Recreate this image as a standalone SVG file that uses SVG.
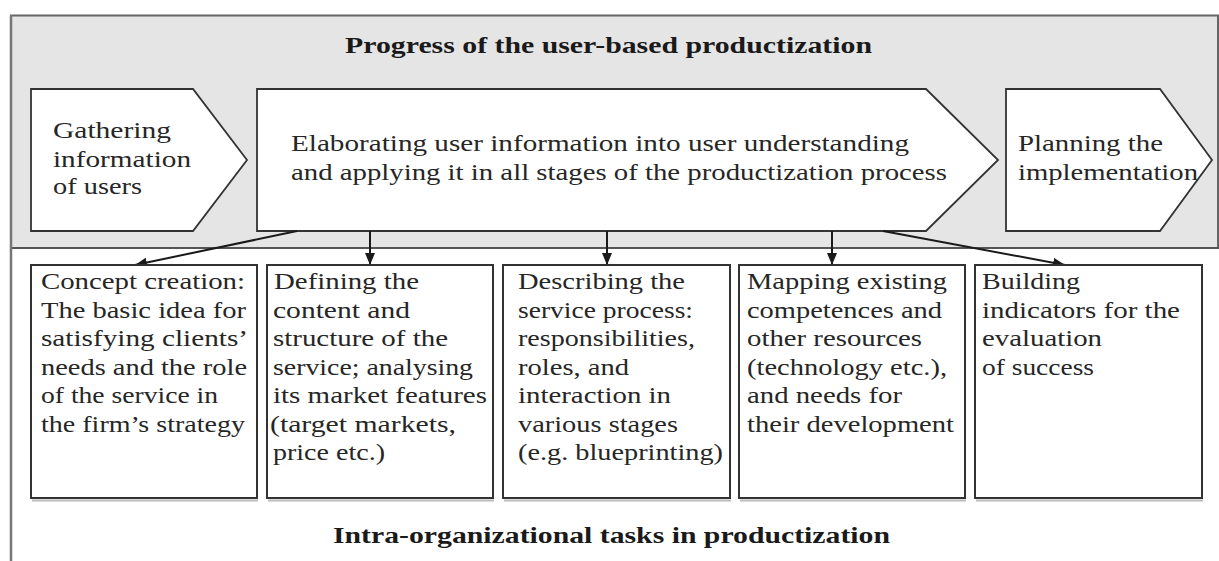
<svg xmlns="http://www.w3.org/2000/svg" width="1219" height="561" viewBox="0 0 1219 561">
<style>
.t{font-family:"Liberation Serif","Times New Roman",serif;font-size:23px;fill:#262626}
.h{font-family:"Liberation Serif","Times New Roman",serif;font-size:24px;font-weight:bold;fill:#1a1a1a}
.shape{fill:#fff;stroke:#333;stroke-width:1.8}
.box{fill:#fff;stroke:#333;stroke-width:2}
.shadow{fill:none;stroke:#bbb;stroke-width:2}
.conn{stroke:#1a1a1a;stroke-width:2;fill:none}
</style>
<defs>
<marker id="ah" markerUnits="userSpaceOnUse" markerWidth="13" markerHeight="11" refX="12" refY="5" orient="auto">
<path d="M0,0 L12,5 L0,10 z" fill="#1a1a1a"/>
</marker>
</defs>
<rect x="0" y="0" width="1219" height="561" fill="#fff"/>
<g id="frame">
<rect x="11" y="15.5" width="1220" height="232.5" fill="#e5e5e5"/>
<line x1="10" y1="15.5" x2="1219" y2="15.5" stroke="#666" stroke-width="2"/>
<line x1="1218" y1="15.5" x2="1218" y2="248" stroke="#666" stroke-width="2"/>
<line x1="10" y1="248" x2="1219" y2="248" stroke="#555" stroke-width="2"/>
<line x1="11" y1="15" x2="11" y2="561" stroke="#777" stroke-width="2.5"/>
</g>
<g id="title-top">
<text class="h" x="345" y="53" textLength="527" lengthAdjust="spacingAndGlyphs">Progress of the user-based productization</text>
</g>
<g id="gathering">
<polygon class="shape" points="31,89 193,89 247,160 193,231 31,231"/>
<text class="t" x="53" y="138" textLength="118" lengthAdjust="spacingAndGlyphs">Gathering</text>
<text class="t" x="53" y="167" textLength="138" lengthAdjust="spacingAndGlyphs">information</text>
<text class="t" x="53" y="194" textLength="89" lengthAdjust="spacingAndGlyphs">of users</text>
</g>
<g id="elaborating">
<polygon class="shape" points="257,89 926,89 998,160 926,231 257,231"/>
<text class="t" x="291" y="151" textLength="618" lengthAdjust="spacingAndGlyphs">Elaborating user information into user understanding</text>
<text class="t" x="291" y="180" textLength="656" lengthAdjust="spacingAndGlyphs">and applying it in all stages of the productization process</text>
</g>
<g id="planning">
<polygon class="shape" points="1006,89 1160,89 1212,160 1160,231 1006,231"/>
<text class="t" x="1018" y="151" textLength="145" lengthAdjust="spacingAndGlyphs">Planning the</text>
<text class="t" x="1018" y="180" textLength="180" lengthAdjust="spacingAndGlyphs">implementation</text>
</g>
<g id="connectors">
<line class="conn" x1="297" y1="231" x2="135" y2="265" marker-end="url(#ah)"/>
<line class="conn" x1="370" y1="231" x2="370" y2="265" marker-end="url(#ah)"/>
<line class="conn" x1="607" y1="231" x2="607" y2="265" marker-end="url(#ah)"/>
<line class="conn" x1="832" y1="231" x2="832" y2="265" marker-end="url(#ah)"/>
<line class="conn" x1="883" y1="231" x2="1065" y2="265" marker-end="url(#ah)"/>
</g>
<g id="concept">
<line class="shadow" x1="32" y1="500.5" x2="258" y2="500.5"/>
<rect class="box" x="31" y="265" width="226" height="233"/>
<text class="t" x="41" y="289" textLength="204" lengthAdjust="spacingAndGlyphs">Concept creation:</text>
<text class="t" x="41" y="317.5" textLength="205" lengthAdjust="spacingAndGlyphs">The basic idea for</text>
<text class="t" x="41" y="346" textLength="207" lengthAdjust="spacingAndGlyphs">satisfying clients’</text>
<text class="t" x="41" y="374.5" textLength="206" lengthAdjust="spacingAndGlyphs">needs and the role</text>
<text class="t" x="41" y="403" textLength="177" lengthAdjust="spacingAndGlyphs">of the service in</text>
<text class="t" x="41" y="431.5" textLength="204" lengthAdjust="spacingAndGlyphs">the firm’s strategy</text>
</g>
<g id="defining">
<line class="shadow" x1="268" y1="500.5" x2="494" y2="500.5"/>
<rect class="box" x="267" y="265" width="226" height="233"/>
<text class="t" x="274" y="289" textLength="145" lengthAdjust="spacingAndGlyphs">Defining the</text>
<text class="t" x="273" y="317.5" textLength="137" lengthAdjust="spacingAndGlyphs">content and</text>
<text class="t" x="273" y="346" textLength="175" lengthAdjust="spacingAndGlyphs">structure of the</text>
<text class="t" x="273" y="374.5" textLength="200" lengthAdjust="spacingAndGlyphs">service; analysing</text>
<text class="t" x="273" y="403" textLength="214" lengthAdjust="spacingAndGlyphs">its market features</text>
<text class="t" x="270" y="431.5" textLength="186" lengthAdjust="spacingAndGlyphs">(target markets,</text>
<text class="t" x="273" y="460" textLength="112" lengthAdjust="spacingAndGlyphs">price etc.)</text>
</g>
<g id="describing">
<line class="shadow" x1="504" y1="500.5" x2="731" y2="500.5"/>
<rect class="box" x="503" y="265" width="227" height="233"/>
<text class="t" x="518" y="289" textLength="167" lengthAdjust="spacingAndGlyphs">Describing the</text>
<text class="t" x="518" y="317.5" textLength="175" lengthAdjust="spacingAndGlyphs">service process:</text>
<text class="t" x="518" y="346" textLength="177" lengthAdjust="spacingAndGlyphs">responsibilities,</text>
<text class="t" x="518" y="374.5" textLength="111" lengthAdjust="spacingAndGlyphs">roles, and</text>
<text class="t" x="518" y="403" textLength="153" lengthAdjust="spacingAndGlyphs">interaction in</text>
<text class="t" x="518" y="431.5" textLength="160" lengthAdjust="spacingAndGlyphs">various stages</text>
<text class="t" x="518" y="460" textLength="205" lengthAdjust="spacingAndGlyphs">(e.g. blueprinting)</text>
</g>
<g id="mapping">
<line class="shadow" x1="740" y1="500.5" x2="966" y2="500.5"/>
<rect class="box" x="739" y="265" width="226" height="233"/>
<text class="t" x="747" y="289" textLength="200" lengthAdjust="spacingAndGlyphs">Mapping existing</text>
<text class="t" x="747" y="317.5" textLength="195" lengthAdjust="spacingAndGlyphs">competences and</text>
<text class="t" x="747" y="346" textLength="175" lengthAdjust="spacingAndGlyphs">other resources</text>
<text class="t" x="747" y="374.5" textLength="200" lengthAdjust="spacingAndGlyphs">(technology etc.),</text>
<text class="t" x="747" y="403" textLength="155" lengthAdjust="spacingAndGlyphs">and needs for</text>
<text class="t" x="747" y="431.5" textLength="207" lengthAdjust="spacingAndGlyphs">their development</text>
</g>
<g id="building">
<line class="shadow" x1="976" y1="500.5" x2="1203" y2="500.5"/>
<rect class="box" x="975" y="265" width="227" height="233"/>
<text class="t" x="982" y="289" textLength="98" lengthAdjust="spacingAndGlyphs">Building</text>
<text class="t" x="982" y="317.5" textLength="198" lengthAdjust="spacingAndGlyphs">indicators for the</text>
<text class="t" x="982" y="346" textLength="120" lengthAdjust="spacingAndGlyphs">evaluation</text>
<text class="t" x="982" y="374.5" textLength="112" lengthAdjust="spacingAndGlyphs">of success</text>
</g>
<g id="title-bottom">
<text class="h" x="333" y="543" textLength="557" lengthAdjust="spacingAndGlyphs">Intra-organizational tasks in productization</text>
</g>
</svg>
